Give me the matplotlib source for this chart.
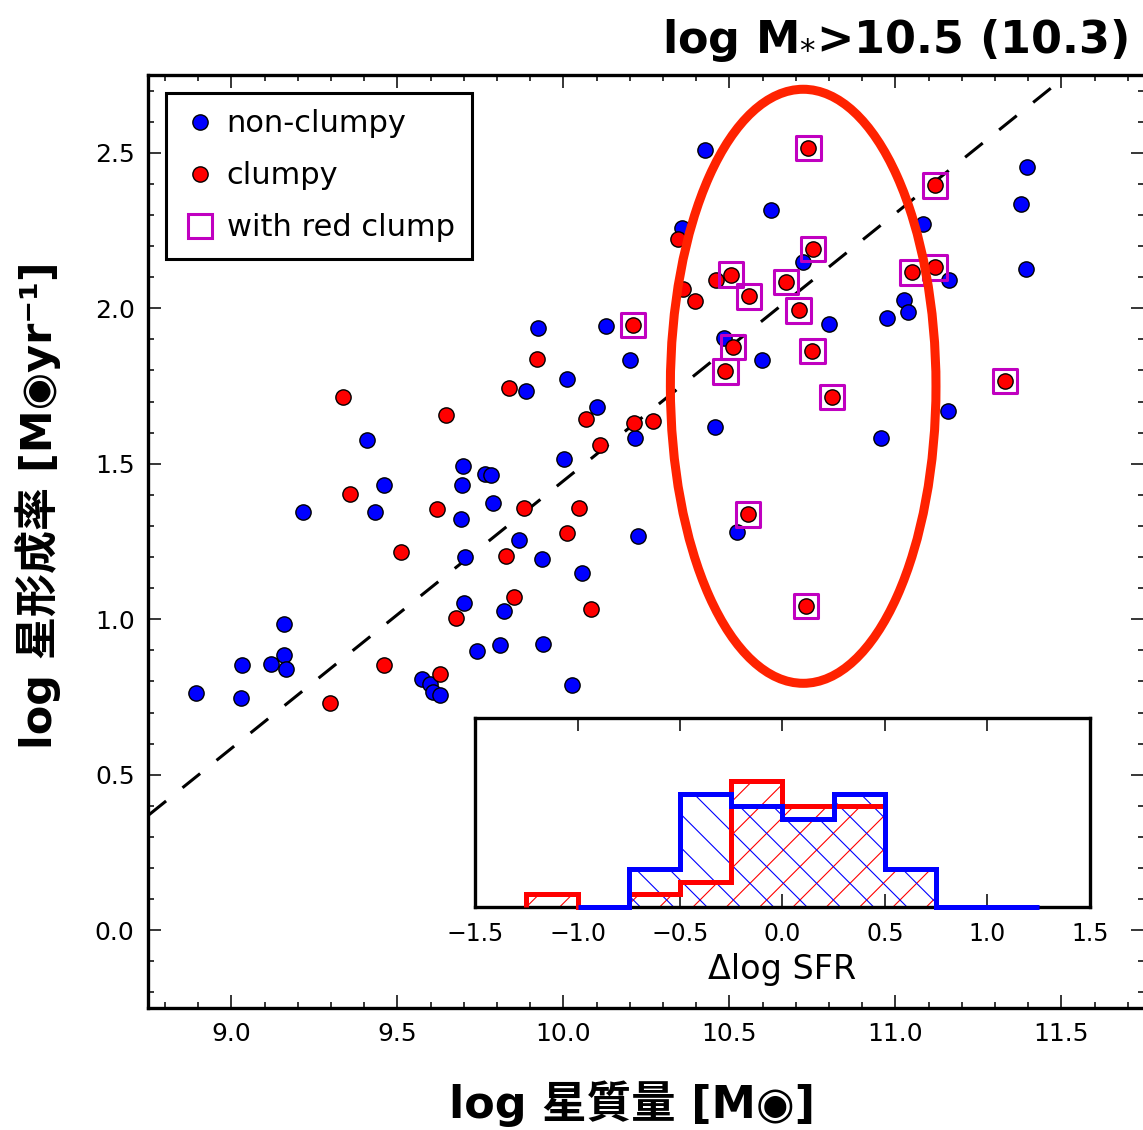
import numpy as np
import matplotlib.pyplot as plt
from matplotlib.patches import Ellipse
from matplotlib.lines import Line2D
from matplotlib.ticker import MultipleLocator

plt.rcParams["font.family"] = ["DejaVu Sans", "Noto Sans CJK JP"]
plt.rcParams["font.size"] = 18
plt.rcParams["hatch.linewidth"] = 0.8

# non-clumpy galaxies (log M*, log SFR)
nc_mass = [9.923, 10.129, 10.199, 10.010, 9.888, 10.101, 10.215, 9.408, 10.002, 9.698,
           9.765, 9.782, 9.693, 9.459, 9.216, 9.433, 9.787, 9.690, 9.867, 10.223,
           9.702, 9.936, 10.055, 9.699, 9.820, 9.157, 9.740, 9.810, 9.938, 9.032,
           9.118, 9.157, 9.163, 9.573, 9.599, 9.606, 9.627, 10.027, 8.894, 9.028,
           10.427, 11.395, 11.379, 10.626, 10.356, 11.082, 10.720, 11.392, 11.161, 11.026,
           11.038, 10.975, 10.799, 10.483, 10.599, 10.455, 10.955, 11.158, 10.524]
nc_sfr = [1.936, 1.943, 1.835, 1.772, 1.733, 1.683, 1.582, 1.575, 1.514, 1.493,
          1.468, 1.463, 1.432, 1.432, 1.344, 1.345, 1.375, 1.321, 1.255, 1.269,
          1.199, 1.194, 1.150, 1.051, 1.027, 0.986, 0.898, 0.916, 0.920, 0.854,
          0.856, 0.885, 0.840, 0.807, 0.791, 0.766, 0.756, 0.790, 0.764, 0.747,
          2.509, 2.454, 2.334, 2.315, 2.259, 2.271, 2.149, 2.126, 2.092, 2.028,
          1.987, 1.968, 1.948, 1.903, 1.832, 1.618, 1.584, 1.668, 1.281]

# clumpy galaxies, with a flag for those hosting a red clump
cl_mass = [9.921, 9.837, 9.335, 9.647, 10.068, 10.212, 10.271, 10.111, 9.358, 9.618,
           9.880, 10.047, 10.010, 9.512, 9.828, 9.851, 9.677, 10.084, 9.459, 9.629,
           9.297, 10.344, 10.460, 10.359, 10.395,
           10.209, 10.738, 11.120, 10.751, 11.049, 11.120, 10.504, 10.671, 10.558, 10.708,
           10.510, 10.750, 10.488, 11.329, 10.809, 10.556, 10.731]
cl_sfr = [1.836, 1.742, 1.716, 1.658, 1.643, 1.630, 1.637, 1.561, 1.402, 1.353,
          1.359, 1.357, 1.276, 1.215, 1.202, 1.073, 1.003, 1.034, 0.854, 0.823,
          0.730, 2.222, 2.092, 2.061, 2.024,
          1.945, 2.515, 2.395, 2.190, 2.115, 2.131, 2.108, 2.085, 2.038, 1.993,
          1.876, 1.862, 1.797, 1.766, 1.714, 1.337, 1.042]
cl_redclump = [0] * 25 + [1] * 17

# Delta log SFR histograms (counts in 0.25 dex bins)
hist_nc_edges = [-1.0, -0.75, -0.5, -0.25, 0.0, 0.25, 0.5, 0.75, 1.0, 1.25]
hist_nc_counts = [0, 3, 9, 8, 7, 9, 3, 0, 0]
hist_cl_edges = [-1.25, -1.0, -0.75, -0.5, -0.25, 0.0, 0.25, 0.5, 0.75]
hist_cl_counts = [1, 0, 1, 2, 10, 8, 8, 3]

# main-sequence relation and the high-mass region
ms_slope = 0.86
ms_at10 = 1.445
region_center = (10.722, 1.749)
region_width = 0.80
region_height = 1.91

fig = plt.figure(figsize=(11.43, 11.30), dpi=100)
ax = fig.add_axes([0.1299, 0.10796, 0.8714, 0.8257])

# main sequence
xl = np.array([8.75, 11.75])
ax.plot(xl, ms_at10 + ms_slope * (xl - 10.0), color='black', lw=2.2,
        linestyle=(0, (7.4, 6.9)), zorder=2)

ax.scatter(nc_mass, nc_sfr, s=121, c='blue', edgecolors='black', linewidths=1.0, zorder=3)
ax.scatter(cl_mass, cl_sfr, s=121, c='red', edgecolors='black', linewidths=1.0, zorder=3)

cl_mass = np.array(cl_mass)
cl_sfr = np.array(cl_sfr)
rc = np.array(cl_redclump) == 1
ax.scatter(cl_mass[rc], cl_sfr[rc], s=17.5**2, marker='s', facecolors='none',
           edgecolors='#c000c0', linewidths=2.2, zorder=4)

ax.add_patch(Ellipse(region_center, region_width, region_height, fill=False,
                     edgecolor='#ff2200', lw=6.5, zorder=5))

ax.set_xlim(8.75, 11.75)
ax.set_ylim(-0.25, 2.75)
ax.xaxis.set_major_locator(MultipleLocator(0.5))
ax.xaxis.set_minor_locator(MultipleLocator(0.1))
ax.yaxis.set_major_locator(MultipleLocator(0.5))
ax.yaxis.set_minor_locator(MultipleLocator(0.1))
ax.tick_params(which='both', direction='in', top=True, right=True, width=1.1)
ax.tick_params(which='major', length=9.3, labelsize=18, pad=10)
ax.tick_params(which='minor', length=4.5)
for sp in ax.spines.values():
    sp.set_linewidth(2.4)

handles = [
    Line2D([], [], ls='none', marker='o', ms=11, mfc='blue', mec='black', mew=1.0),
    Line2D([], [], ls='none', marker='o', ms=11, mfc='red', mec='black', mew=1.0),
    Line2D([], [], ls='none', marker='s', ms=17.5, mfc='none', mec='#c000c0', mew=2.2),
]
leg = ax.legend(handles, ['non-clumpy', 'clumpy', 'with red clump'], loc='upper left',
                fontsize=22, fancybox=False, edgecolor='black', framealpha=1,
                handlelength=1.1, handletextpad=0.33, labelspacing=0.75,
                borderpad=0.55, borderaxespad=0.58)
leg.get_frame().set_linewidth(2.2)
leg.set_zorder(6)

fig.text(1128 / 1143, 1 - 41 / 1130, 'log M$_{*}$>10.5 (10.3)', fontsize=32,
         fontweight='bold', ha='right', va='center')
fig.text(632 / 1143, 1 - 1104 / 1130, 'log 星質量 [M◉]', fontsize=32,
         fontweight='bold', ha='center', va='center')
fig.text(38 / 1143, 1 - 505 / 1130, 'log 星形成率 [M◉yr⁻¹]', fontsize=31,
         fontweight='bold', rotation=90, ha='center', va='center')

# inset: Delta log SFR distributions
ins = fig.add_axes([0.4156, 0.1973, 0.538, 0.1673])
ins.bar(hist_cl_edges[:-1], hist_cl_counts, width=0.25, align='edge', fill=False,
        hatch='/', edgecolor='red', linewidth=0)
ins.bar(hist_nc_edges[:-1], hist_nc_counts, width=0.25, align='edge', fill=False,
        hatch='\\', edgecolor='blue', linewidth=0)
ins.stairs(hist_cl_counts, hist_cl_edges, baseline=0, color='red', lw=3.6,
           zorder=3, clip_on=False)
ins.stairs(hist_nc_counts, hist_nc_edges, baseline=0, color='blue', lw=3.6,
           zorder=3, clip_on=False)
ins.set_xlim(-1.5, 1.5)
ins.set_ylim(0, 15)
ins.set_yticks([])
ins.set_xticks([-1.5, -1.0, -0.5, 0.0, 0.5, 1.0, 1.5])
ins.tick_params(direction='in', top=True, length=9.3, width=1.1, labelsize=17, pad=11)
ins.set_xlabel('Δlog SFR', fontsize=24, labelpad=5)
for sp in ins.spines.values():
    sp.set_linewidth(2.4)

fig.savefig('out.png', dpi=100)
